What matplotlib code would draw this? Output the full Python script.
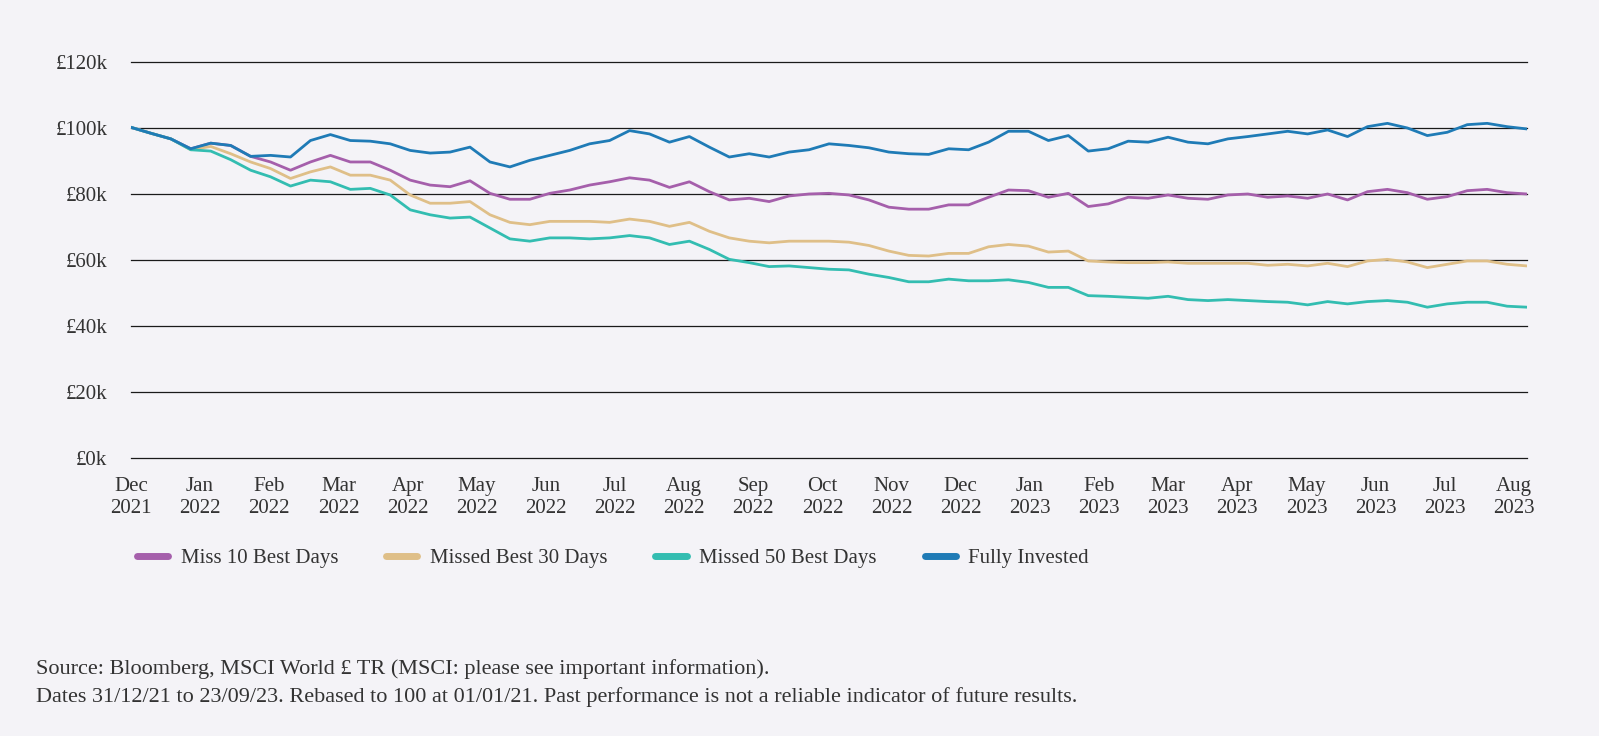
import matplotlib
matplotlib.use("Agg")
import matplotlib.pyplot as plt
import numpy as np

plt.rcParams['font.family'] = ['Liberation Serif', 'DejaVu Serif']

# month tick labels (evenly spaced, Dec 2021 .. Aug 2023)
month_labels = ["Dec\n2021", "Jan\n2022", "Feb\n2022", "Mar\n2022", "Apr\n2022",
                "May\n2022", "Jun\n2022", "Jul\n2022", "Aug\n2022", "Sep\n2022",
                "Oct\n2022", "Nov\n2022", "Dec\n2022", "Jan\n2023", "Feb\n2023",
                "Mar\n2023", "Apr\n2023", "May\n2023", "Jun\n2023", "Jul\n2023",
                "Aug\n2023"]

# portfolio values in £k (roughly weekly samples)
fully_invested = [100.2, 98.4, 96.7, 93.7, 95.4, 94.7, 91.4, 91.7, 91.2, 96.2,
                  98.0, 96.2, 96.0, 95.2, 93.2, 92.4, 92.7, 94.2, 89.7, 88.2,
                  90.2, 91.7, 93.2, 95.2, 96.2, 99.2, 98.2, 95.7, 97.4, 94.2,
                  91.2, 92.2, 91.2, 92.7, 93.4, 95.2, 94.7, 94.0, 92.7, 92.2,
                  92.0, 93.7, 93.4, 95.7, 99.0, 99.0, 96.2, 97.7, 93.0, 93.7,
                  96.0, 95.7, 97.2, 95.7, 95.2, 96.7, 97.4, 98.2, 99.0, 98.2,
                  99.4, 97.4, 100.4, 101.4, 100.0, 97.7, 98.7, 101.0, 101.4, 100.4,
                  99.7]
miss_10 = [100.2, 98.4, 96.7, 93.7, 95.4, 94.7, 91.4, 89.7, 87.2, 89.7,
           91.7, 89.7, 89.7, 87.2, 84.2, 82.7, 82.2, 84.0, 80.2, 78.4,
           78.4, 80.2, 81.2, 82.7, 83.7, 84.9, 84.2, 82.0, 83.7, 80.7,
           78.2, 78.7, 77.7, 79.4, 80.0, 80.2, 79.7, 78.2, 76.0, 75.4,
           75.4, 76.7, 76.7, 79.0, 81.2, 81.0, 79.0, 80.2, 76.2, 77.0,
           79.0, 78.7, 79.7, 78.7, 78.4, 79.7, 80.0, 79.0, 79.4, 78.7,
           80.0, 78.2, 80.7, 81.4, 80.4, 78.4, 79.2, 81.0, 81.4, 80.4,
           80.0]
miss_30 = [100.2, 98.4, 96.7, 93.4, 94.4, 92.2, 89.7, 87.7, 84.7, 86.7,
           88.2, 85.7, 85.7, 84.2, 79.7, 77.2, 77.2, 77.7, 73.7, 71.4,
           70.7, 71.7, 71.7, 71.7, 71.4, 72.4, 71.7, 70.2, 71.4, 68.7,
           66.7, 65.7, 65.2, 65.7, 65.7, 65.7, 65.4, 64.4, 62.7, 61.4,
           61.2, 62.0, 62.0, 64.0, 64.7, 64.2, 62.4, 62.7, 59.7, 59.4,
           59.2, 59.2, 59.4, 59.0, 59.0, 59.0, 59.0, 58.4, 58.7, 58.2,
           59.0, 58.0, 59.7, 60.2, 59.4, 57.7, 58.7, 59.7, 59.7, 58.7,
           58.2]
miss_50 = [100.2, 98.4, 96.7, 93.4, 93.0, 90.4, 87.2, 85.2, 82.4, 84.2,
           83.7, 81.4, 81.7, 79.7, 75.2, 73.7, 72.7, 73.0, 69.7, 66.4,
           65.7, 66.7, 66.7, 66.4, 66.7, 67.4, 66.7, 64.7, 65.7, 63.2,
           60.2, 59.2, 58.0, 58.2, 57.7, 57.2, 57.0, 55.7, 54.7, 53.4,
           53.4, 54.2, 53.7, 53.7, 54.0, 53.2, 51.7, 51.7, 49.2, 49.0,
           48.7, 48.4, 49.0, 48.0, 47.7, 48.0, 47.7, 47.4, 47.2, 46.4,
           47.4, 46.7, 47.4, 47.7, 47.2, 45.7, 46.7, 47.2, 47.2, 46.0,
           45.7]

series_names = ["Miss 10 Best Days", "Missed Best 30 Days", "Missed 50 Best Days", "Fully Invested"]
series_values = [miss_10, miss_30, miss_50, fully_invested]
colors = ["#a55fab", "#dfbf88", "#33bdb1", "#1f7bb6"]

bg = "#f4f3f7"
text_col = "#333333"

x = np.linspace(0, 20.19, len(fully_invested))

fig = plt.figure(figsize=(15.99, 7.36), dpi=100, facecolor=bg)
ax = fig.add_axes([0.0819, 0.3777, 0.8731, 0.5381], facecolor=bg)

for name, vals, c in zip(series_names, series_values, colors):
    ax.plot(x, vals, color=c, lw=2.0, label=name, solid_joinstyle='round')

ax.set_xlim(0, 20.19)
ax.set_ylim(0, 120)
ax.set_yticks(range(0, 121, 20))
ax.set_yticklabels([f"£{v}k" for v in range(0, 121, 20)])
ax.set_xticks(range(len(month_labels)))
ax.set_xticklabels(month_labels, linespacing=1.2)
ax.grid(axis='y', color='#1a1a1a', lw=0.9)
for gl in ax.get_ygridlines():
    gl.set_clip_on(False)
ax.set_axisbelow(True)
for s in ax.spines.values():
    s.set_visible(False)
ax.tick_params(axis='y', length=0, pad=17, labelsize=15, labelcolor=text_col)
ax.tick_params(axis='x', length=0, pad=14, labelsize=15, labelcolor=text_col)

leg = fig.legend(loc='center left', bbox_to_anchor=(0.074, 1 - 558 / 736), ncol=4,
                 frameon=False, fontsize=15, handlelength=1.5, handletextpad=0.6,
                 columnspacing=2.3, labelcolor=text_col)
for h in leg.get_lines():
    h.set_linewidth(5)
    h.set_solid_capstyle('round')

fig.text(36 / 1599, 1 - 669 / 736, "Source: Bloomberg, MSCI World £ TR (MSCI: please see important information).",
         fontsize=16, color=text_col, va='center', ha='left')
fig.text(36 / 1599, 1 - 697 / 736, "Dates 31/12/21 to 23/09/23. Rebased to 100 at 01/01/21. Past performance is not a reliable indicator of future results.",
         fontsize=16, color=text_col, va='center', ha='left')

fig.savefig("out.png", dpi=100, facecolor=bg)
